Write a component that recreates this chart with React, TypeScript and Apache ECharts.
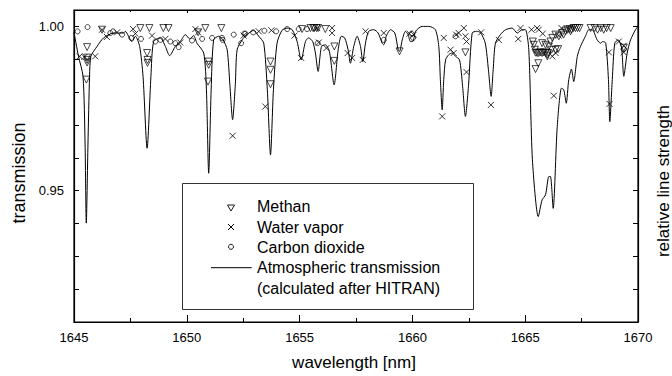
import React, { useEffect, useRef } from "react";
import * as echarts from "echarts";

// Atmospheric transmission (calculated after HITRAN)
const lineWl = [
  1645.00,1645.20,1645.40,1645.49,1645.545,1645.62,1645.69,1645.75,1646.02,1646.31,
  1646.76,1647.20,1647.27,1647.57,1647.72,1647.91,1648.06,1648.24,1648.41,1648.53,
  1648.83,1649.05,1649.24,1649.49,1649.71,1649.94,1650.13,1650.30,1650.45,1650.75,
  1650.87,1650.97,1651.08,1651.19,1651.41,1651.61,1651.79,1651.91,1652.03,1652.15,
  1652.23,1652.45,1652.67,1652.96,1653.19,1653.41,1653.57,1653.71,1653.84,1654.00,
  1654.22,1654.45,1654.67,1654.89,1655.07,1655.26,1655.40,1655.58,1655.70,1655.82,
  1655.97,1656.14,1656.32,1656.53,1656.71,1656.85,1657.00,1657.15,1657.25,1657.40,
  1657.55,1657.70,1657.80,1657.92,1658.06,1658.29,1658.48,1658.66,1658.73,1658.84,
  1659.03,1659.22,1659.37,1659.43,1659.55,1659.69,1659.81,1659.91,1660.02,1660.14,
  1660.43,1660.73,1661.02,1661.17,1661.24,1661.32,1661.39,1661.47,1661.61,1661.76,
  1661.91,1662.09,1662.22,1662.35,1662.49,1662.65,1662.84,1663.02,1663.23,1663.37,
  1663.49,1663.58,1663.68,1663.90,1664.13,1664.42,1664.65,1664.87,1665.01,1665.16,
  1665.32,1665.58,1665.75,1665.90,1666.05,1666.12,1666.24,1666.42,1666.61,1666.71,
  1666.82,1666.93,1667.05,1667.15,1667.31,1667.45,1667.67,1667.82,1667.97,1668.19,
  1668.34,1668.44,1668.57,1668.69,1668.75,1668.86,1668.97,1669.12,1669.27,1669.37,
  1669.52,1669.67,1669.89,1670.00,
];
const lineT = [
  0.9981,0.9909,0.9848,0.9645,0.9401,0.9645,0.9848,0.9909,0.9939,0.9965,
  0.9980,0.9980,0.9985,0.9954,0.9970,0.9939,0.9848,0.9629,0.9848,0.9954,
  0.9965,0.9939,0.9911,0.9939,0.9954,0.9975,0.9962,0.9972,0.9949,0.9919,
  0.9807,0.9553,0.9807,0.9959,0.9970,0.9959,0.9929,0.9822,0.9716,0.9822,
  0.9929,0.9959,0.9975,0.9988,0.9970,0.9949,0.9807,0.9609,0.9807,0.9949,
  0.9988,0.9995,0.9990,0.9954,0.9898,0.9954,0.9965,0.9954,0.9919,0.9863,
  0.9939,0.9944,0.9924,0.9822,0.9929,0.9970,0.9965,0.9929,0.9888,0.9939,
  0.9970,0.9939,0.9893,0.9949,0.9985,0.9990,0.9980,0.9949,0.9944,0.9970,
  0.9990,0.9980,0.9929,0.9924,0.9959,0.9985,0.9975,0.9954,0.9954,0.9985,
  1.0000,1.0000,0.9990,0.9939,0.9838,0.9746,0.9838,0.9898,0.9914,0.9919,
  0.9909,0.9898,0.9822,0.9726,0.9822,0.9980,0.9985,0.9981,0.9949,0.9868,
  0.9787,0.9868,0.9949,0.9975,0.9990,0.9995,0.9980,0.9990,0.9990,0.9929,
  0.9594,0.9421,0.9472,0.9487,0.9543,0.9543,0.9446,0.9695,0.9812,0.9807,
  0.9766,0.9838,0.9870,0.9832,0.9909,0.9939,0.9970,0.9990,0.9990,0.9959,
  0.9949,0.9954,0.9949,0.9838,0.9710,0.9838,0.9949,0.9959,0.9935,0.9848,
  0.9919,0.9959,0.9990,1.0000,
];

// Methane lines
const methanWl = [
  1645.58,1645.58,1645.58,1645.58,1645.55,1646.24,1647.94,1648.34,1648.24,1648.26,
  1648.26,1648.96,1649.19,1650.50,1650.82,1650.97,1650.97,1650.94,1651.53,1653.71,
  1653.71,1653.71,1655.11,1655.48,1655.60,1655.65,1655.75,1655.82,1656.14,1656.54,
  1656.54,1659.43,1662.35,1665.34,1665.38,1665.43,1665.46,1665.53,1665.60,1665.68,
  1665.75,1665.82,1665.90,1665.98,1665.75,1665.90,1666.05,1666.17,1666.35,1666.46,
  1666.12,1666.20,1666.02,1665.98,1665.58,1665.46,1666.34,1666.49,1666.64,1666.79,
  1666.88,1666.96,1667.05,1667.14,1667.23,1667.32,1667.41,1667.01,1666.70,1667.90,
  1668.08,1668.21,1668.35,1668.48,1668.61,1668.79,1669.37,
];
const methanT = [
  0.9937,0.9905,0.9898,0.9890,0.9838,0.9990,0.9995,0.9995,0.9919,0.9898,
  0.9889,0.9995,0.9995,0.9982,0.9995,0.9893,0.9883,0.9832,0.9995,0.9893,
  0.9868,0.9824,0.9992,0.9995,0.9995,0.9995,0.9995,0.9995,0.9992,0.9939,
  0.9895,0.9924,0.9921,0.9954,0.9944,0.9929,0.9920,0.9919,0.9919,0.9921,
  0.9919,0.9921,0.9919,0.9914,0.9949,0.9944,0.9939,0.9929,0.9929,0.9931,
  0.9954,0.9965,0.9919,0.9909,0.9888,0.9870,0.9975,0.9970,0.9980,0.9985,
  0.9990,0.9992,0.9990,0.9995,0.9995,0.9995,0.9995,0.9985,0.9975,0.9995,
  0.9995,0.9990,0.9995,0.9990,0.9995,0.9995,0.9935,
];

// Water vapor lines
const waterWl = [
  1645.25,1645.46,1645.94,1646.24,1646.46,1646.91,1647.62,1647.72,1648.46,1649.05,
  1649.71,1650.38,1650.50,1652.03,1652.52,1653.19,1653.75,1653.48,1654.77,1655.07,
  1655.78,1655.85,1656.19,1656.44,1656.44,1657.13,1657.33,1657.80,1657.92,1658.73,
  1659.87,1660.06,1661.32,1661.39,1661.69,1661.83,1661.94,1662.05,1662.28,1662.35,
  1662.40,1662.40,1663.05,1663.48,1663.83,1664.69,1664.79,1665.28,1665.53,1665.60,
  1665.78,1666.20,1666.35,1666.27,1666.61,1666.49,1668.71,1668.74,1669.15,1669.37,
  1669.37,
];
const waterT = [
  0.9909,0.9907,0.9909,0.9990,0.9968,0.9982,0.9992,0.9978,0.9972,0.9962,
  0.9951,0.9992,0.9982,0.9667,0.9972,0.9985,0.9988,0.9756,0.9972,0.9904,
  0.9995,0.9951,0.9934,0.9995,0.9980,0.9919,0.9904,0.9898,0.9985,0.9980,
  0.9978,0.9975,0.9726,0.9965,0.9929,0.9919,0.9975,0.9980,0.9995,0.9970,
  0.9954,0.9861,0.9982,0.9761,0.9959,0.9962,0.9995,0.9990,0.9995,0.9990,
  0.9978,0.9909,0.9919,0.9789,0.9995,0.9972,0.9921,0.9764,0.9954,0.9941,
  0.9921,
];

// Carbon dioxide lines
const co2Wl = [
  1645.16,1645.60,1646.61,1646.73,1647.13,1647.54,1647.97,1648.61,1648.83,1649.27,
  1649.49,1649.64,1650.23,1650.68,1651.12,1651.56,1651.59,1652.08,1652.41,1652.55,
  1652.60,1652.94,1653.44,1653.96,1654.45,1654.96,1655.33,1655.80,1658.73,1659.96,
  1660.03,1661.91,1669.37,
];
const co2T = [
  0.9985,0.9998,0.9980,0.9985,0.9975,0.9965,0.9962,0.9954,0.9959,0.9954,
  0.9949,0.9937,0.9957,0.9962,0.9965,0.9965,0.9959,0.9975,0.9949,0.9978,
  0.9978,0.9982,0.9987,0.9985,0.9992,0.9992,0.9992,0.9949,0.9959,0.9978,
  0.9965,0.9970,0.9931,
];

const legendLabels = [
  "Methan",
  "Water vapor",
  "Carbon dioxide",
  "Atmospheric transmission",
  "(calculated after HITRAN)",
];

const FONT = "Liberation Sans, Arial, sans-serif";

const zip = (a: number[], b: number[]) => a.map((v, i) => [v, b[i]]);

export default function App() {
  const ref = useRef<HTMLDivElement>(null);
  useEffect(() => {
    if (!ref.current) return;
    const chart = echarts.init(ref.current, null, { renderer: "svg" });
    const hollow = { color: "none", borderColor: "#000", borderWidth: 0.9 };
    const legendY = [206.5, 227, 247.3, 267.7, 288];
    const axisLine = { show: true, onZero: false, lineStyle: { color: "#000", width: 1.2 } };
    const option: any = {
      animation: false,
      backgroundColor: "#fff",
      grid: { left: 74, right: 34, top: 10, bottom: 54, containLabel: false },
      xAxis: [
        {
          type: "value",
          min: 1645,
          max: 1670,
          interval: 5,
          position: "bottom",
          axisLine,
          axisTick: { inside: true, length: 7, lineStyle: { color: "#000" } },
          minorTick: { show: true, splitNumber: 2, length: 4, lineStyle: { color: "#000" } },
          splitLine: { show: false },
          axisLabel: {
            color: "#000",
            fontFamily: FONT,
            fontSize: 13,
            margin: 9,
            formatter: (v: number) => String(Math.round(v)),
          },
        },
        {
          type: "value",
          min: 1645,
          max: 1670,
          interval: 5,
          position: "top",
          axisLine,
          axisTick: { inside: true, length: 3, lineStyle: { color: "#000" } },
          minorTick: { show: true, splitNumber: 2, length: 2, lineStyle: { color: "#000" } },
          splitLine: { show: false },
          axisLabel: { show: false },
        },
      ],
      yAxis: [
        {
          type: "value",
          min: 0.91,
          max: 1.005,
          interval: 0.01,
          position: "left",
          axisLine,
          axisTick: { show: true, inside: true, length: 5, lineStyle: { color: "#000" } },
          splitLine: { show: false },
          axisLabel: {
            color: "#000",
            fontFamily: FONT,
            fontSize: 13,
            margin: 10,
            formatter: (v: number) =>
              Math.abs(v - 1) < 1e-6 ? "1.00" : Math.abs(v - 0.95) < 1e-6 ? "0.95" : "",
          },
        },
        {
          type: "value",
          min: 0.91,
          max: 1.005,
          interval: 0.01,
          position: "right",
          axisLine,
          axisTick: { show: true, inside: true, length: 5, lineStyle: { color: "#000" } },
          splitLine: { show: false },
          axisLabel: { show: false },
        },
      ],
      series: [
        {
          type: "line",
          name: "Atmospheric transmission",
          data: zip(lineWl, lineT),
          smooth: 0.25,
          showSymbol: false,
          lineStyle: { color: "#000", width: 1 },
          clip: true,
          z: 2,
        },
        {
          type: "scatter",
          name: "Methan",
          data: zip(methanWl, methanT),
          symbol: "triangle",
          symbolRotate: 180,
          symbolSize: 7,
          itemStyle: hollow,
          z: 3,
        },
        {
          type: "scatter",
          name: "Water vapor",
          data: zip(waterWl, waterT),
          symbol: "path://M0,0L10,10M10,0L0,10",
          symbolSize: 6,
          itemStyle: { color: "none", borderColor: "#000", borderWidth: 1 },
          z: 3,
        },
        {
          type: "scatter",
          name: "Carbon dioxide",
          data: zip(co2Wl, co2T),
          symbol: "circle",
          symbolSize: 5,
          itemStyle: hollow,
          z: 3,
        },
      ],
      graphic: [
        {
          type: "rect",
          shape: { x: 74, y: 10, width: 564, height: 312 },
          style: { fill: "none", stroke: "#000", lineWidth: 1.2 },
          silent: true,
          z: 1,
        },
        {
          type: "text",
          x: 19,
          y: 173,
          rotation: Math.PI / 2,
          style: {
            text: "transmission",
            fontFamily: FONT,
            fontSize: 18,
            fill: "#000",
            align: "center",
            verticalAlign: "middle",
          },
        },
        {
          type: "text",
          x: 663,
          y: 181,
          rotation: Math.PI / 2,
          style: {
            text: "relative line strength",
            fontFamily: FONT,
            fontSize: 17,
            fill: "#000",
            align: "center",
            verticalAlign: "middle",
          },
        },
        {
          type: "text",
          x: 354,
          y: 362,
          style: {
            text: "wavelength [nm]",
            fontFamily: FONT,
            fontSize: 17,
            fill: "#000",
            align: "center",
            verticalAlign: "middle",
          },
        },
        {
          type: "rect",
          shape: { x: 182.5, y: 183.5, width: 291, height: 126 },
          style: { fill: "#fff", stroke: "#333", lineWidth: 1 },
          z: 10,
        },
        {
          type: "polygon",
          shape: { points: [[227.5, 205], [234.5, 205], [231, 211]] },
          style: { fill: "none", stroke: "#000", lineWidth: 0.9 },
          z: 11,
        },
        {
          type: "line",
          shape: { x1: 228, y1: 224, x2: 234, y2: 230 },
          style: { stroke: "#000", lineWidth: 1 },
          z: 11,
        },
        {
          type: "line",
          shape: { x1: 234, y1: 224, x2: 228, y2: 230 },
          style: { stroke: "#000", lineWidth: 1 },
          z: 11,
        },
        {
          type: "circle",
          shape: { cx: 231, cy: 246.8, r: 2.5 },
          style: { fill: "none", stroke: "#000", lineWidth: 0.9 },
          z: 11,
        },
        {
          type: "line",
          shape: { x1: 211, y1: 267.7, x2: 251.7, y2: 267.7 },
          style: { stroke: "#000", lineWidth: 1 },
          z: 11,
        },
        ...legendLabels.map((t, i) => ({
          type: "text",
          x: 257,
          y: legendY[i],
          z: 11,
          style: {
            text: t,
            fontFamily: FONT,
            fontSize: 16,
            fill: "#000",
            align: "left",
            verticalAlign: "middle",
          },
        })),
      ],
    };
    chart.setOption(option);
    return () => chart.dispose();
  }, []);
  return (
    <div
      ref={ref}
      style={{ position: "fixed", left: 0, top: 0, width: 672, height: 376, background: "#fff" }}
    />
  );
}
